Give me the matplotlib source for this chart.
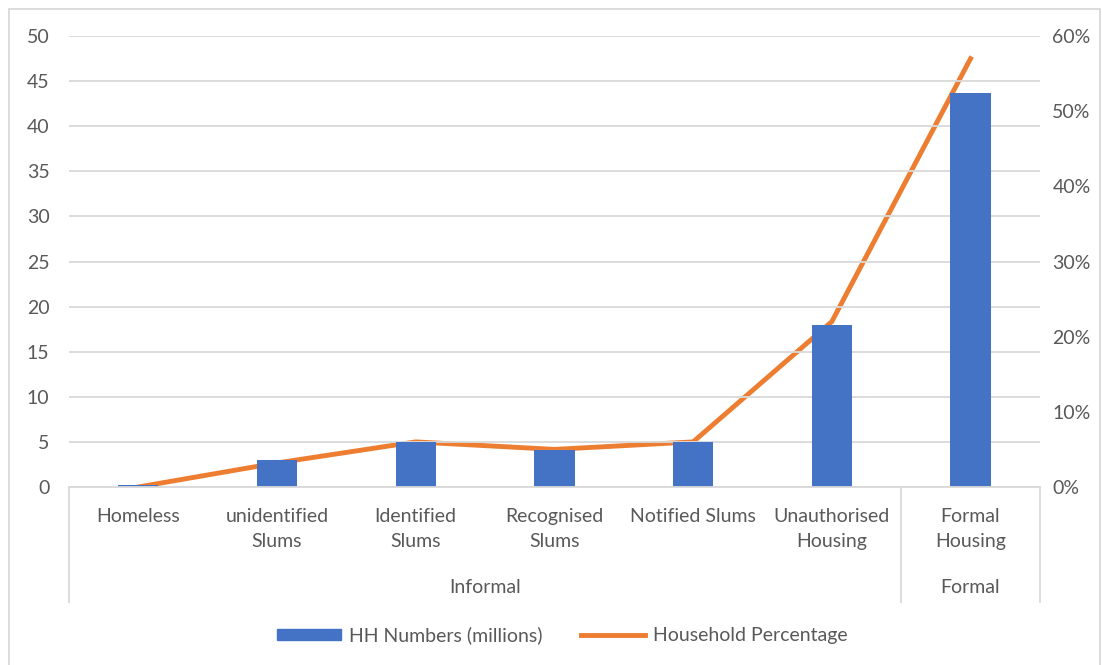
import matplotlib.pyplot as plt
import matplotlib.patches as mpatches
import matplotlib.transforms as mtransforms
from matplotlib.lines import Line2D
from matplotlib.ticker import PercentFormatter

plt.rcParams["font.family"] = ["Lato", "DejaVu Sans"]

# data
categories = ["Homeless", "unidentified\nSlums", "Identified\nSlums", "Recognised\nSlums",
              "Notified Slums", "Unauthorised\nHousing", "Formal\nHousing"]
groups = ["Informal", "Formal"]
group_sizes = [6, 1]
hh_numbers = [0.2, 3.0, 5.0, 4.1, 5.0, 18.0, 43.7]
hh_percent = [0.0, 3.2, 6.0, 5.0, 6.0, 22.0, 57.0]

bar_color = "#4472C4"
line_color = "#ED7D31"
text_color = "#595959"
grid_color = "#D9D9D9"
fs = 14

fig = plt.figure(figsize=(11.02, 6.65), dpi=100)
ax = fig.add_axes([0.0626, 0.2677, 0.881, 0.678])
ax2 = ax.twinx()

x = list(range(len(categories)))
ax.bar(x, hh_numbers, width=0.29, color=bar_color, zorder=2)
ax2.plot(x, hh_percent, color=line_color, lw=3.5, solid_joinstyle="round", zorder=3)

ax.set_xlim(-0.5, len(categories) - 0.5)
ax.set_ylim(0, 50)
ax.set_yticks(range(0, 51, 5))
ax2.set_ylim(0, 60)
ax2.set_yticks(range(0, 61, 10))
ax2.yaxis.set_major_formatter(PercentFormatter(decimals=0))

ax.grid(axis="y", color=grid_color, lw=1.3, zorder=0)
ax.set_axisbelow(True)
for a in (ax, ax2):
    for s in a.spines.values():
        s.set_visible(False)
    a.tick_params(length=0, labelsize=fs, colors=text_color)
ax.tick_params(axis="y", pad=14)
ax2.tick_params(axis="y", pad=9)
ax.spines["bottom"].set_visible(True)
ax.spines["bottom"].set_color(grid_color)
ax.spines["bottom"].set_linewidth(1.3)

ax.set_xticks(x)
ax.set_xticklabels(categories, linespacing=1.6)
ax.tick_params(axis="x", pad=15)
ax.set_zorder(ax2.get_zorder() + 1)
ax.patch.set_visible(False)

# group separators and labels
trans = mtransforms.blended_transform_factory(ax.transData, ax.transAxes)
bounds = [-0.5]
for size in group_sizes:
    bounds.append(bounds[-1] + size)
for b in bounds:
    ax.add_line(Line2D([b, b], [0, -0.255], transform=trans, color=grid_color, lw=1.3,
                       clip_on=False))
for g, lo, hi in zip(groups, bounds[:-1], bounds[1:]):
    ax.text((lo + hi) / 2, -0.222, g, transform=trans, ha="center", va="center",
            fontsize=fs, color=text_color)

# legend
handles = [mpatches.Patch(color=bar_color, label="HH Numbers (millions)"),
           Line2D([], [], color=line_color, lw=3.5, label="Household Percentage")]
fig.legend(handles=handles, loc="center", bbox_to_anchor=(0.51, 0.045), ncol=2,
           frameon=False, fontsize=fs, labelcolor=text_color, handlelength=3.3,
           handleheight=0.5, columnspacing=2.0, handletextpad=0.4)

# chart border
fig.add_artist(mpatches.Rectangle((0.008, -0.01), 0.99, 0.997, transform=fig.transFigure,
                                  fill=False, edgecolor=grid_color, lw=1.3))

fig.savefig("out.png", dpi=100)
